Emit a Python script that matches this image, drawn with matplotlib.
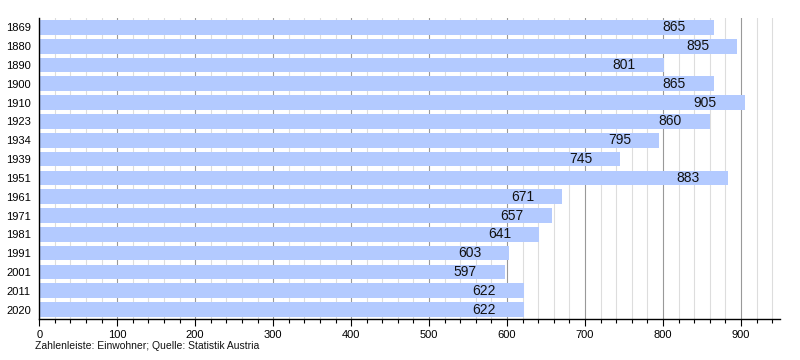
import numpy as np
import matplotlib
matplotlib.use("Agg")
import matplotlib.pyplot as plt
from matplotlib.ticker import MultipleLocator

plt.rcParams["font.family"] = ["Liberation Sans", "DejaVu Sans"]

# Einwohner je Zählungsjahr
years = ["1869", "1880", "1890", "1900", "1910", "1923", "1934", "1939",
         "1951", "1961", "1971", "1981", "1991", "2001", "2011", "2020"]
population = [865, 895, 801, 865, 905, 860, 795, 745,
              883, 671, 657, 641, 603, 597, 622, 622]

fig = plt.figure(figsize=(8, 3.6), dpi=100)
ax = fig.add_axes([0.049, 0.114, 0.926, 0.836])

y = np.arange(len(years))
ax.barh(y, population, height=0.78, color="#b3caff", zorder=2)

for yi, v in zip(y, population):
    ax.annotate(str(v), xy=(v, yi), xytext=(-28, 0), textcoords="offset pixels",
                ha="right", va="center", fontsize=10, color="#111111", zorder=3)

ax.set_xlim(0, 950)
ax.set_ylim(len(years) - 0.5, -0.5)
ax.set_yticks(y)
ax.set_yticklabels(years, fontsize=8)
ax.tick_params(axis="y", length=0, pad=6)

ax.xaxis.set_major_locator(MultipleLocator(100))
ax.xaxis.set_minor_locator(MultipleLocator(20))
ax.tick_params(axis="x", which="major", length=5, width=0.8, labelsize=8, pad=3)
ax.tick_params(axis="x", which="minor", length=3, width=0.8)
ax.grid(axis="x", which="major", color="#999999", linewidth=0.8, zorder=0)
ax.grid(axis="x", which="minor", color="#dddddd", linewidth=0.8, zorder=0)
ax.set_axisbelow(True)

for side in ["top", "right"]:
    ax.spines[side].set_visible(False)
ax.spines["left"].set_linewidth(1)
ax.spines["bottom"].set_linewidth(1)

fig.text(0.044, 0.03, "Zahlenleiste: Einwohner; Quelle: Statistik Austria",
         fontsize=7.5, color="#111111")

fig.savefig("out.png", dpi=100)
